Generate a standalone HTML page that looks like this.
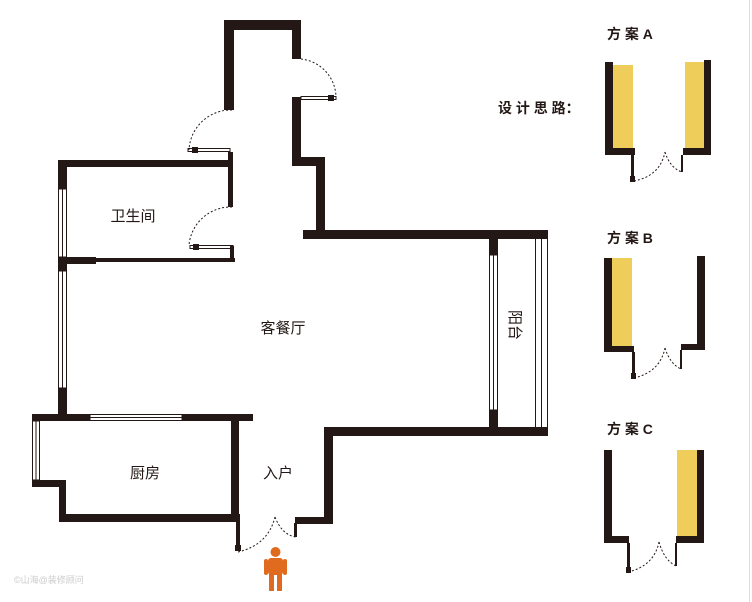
<!DOCTYPE html>
<html><head><meta charset="utf-8"><style>
html,body{margin:0;padding:0;background:#fff;}
svg{display:block;}
text{font-family:"Liberation Sans","Noto Sans CJK SC",sans-serif;fill:#231815;}
</style></head><body>
<svg width="752" height="602" viewBox="0 0 752 602" xmlns="http://www.w3.org/2000/svg">
<rect width="752" height="602" fill="#fff"/>
<line x1="749.5" y1="0" x2="749.5" y2="602" stroke="#ddd" stroke-width="1"/>
<g fill="#231815">
<!-- top corridor -->
<rect x="224" y="20" width="77" height="10"/>
<rect x="224" y="20" width="10" height="90"/>
<rect x="292" y="20" width="9" height="39"/>
<rect x="292" y="97" width="9" height="69"/>
<rect x="292" y="157" width="33" height="9"/>
<rect x="316" y="157" width="9" height="82"/>
<rect x="303" y="230" width="245" height="9"/>
<!-- bathroom -->
<rect x="58" y="160" width="175" height="7"/>
<rect x="58" y="160" width="9" height="29"/>
<rect x="58" y="257" width="38" height="7"/>
<rect x="96" y="258" width="139" height="4"/>
<rect x="228" y="152" width="5" height="55"/>
<rect x="230" y="246" width="4" height="12"/>
<!-- left wall -->
<rect x="58" y="263" width="9" height="8"/>
<rect x="58" y="388" width="9" height="30"/>
<!-- kitchen -->
<rect x="32" y="414" width="58" height="7"/>
<rect x="182" y="414" width="71" height="7"/>
<rect x="32" y="480" width="34" height="7"/>
<rect x="59" y="480" width="7" height="42"/>
<rect x="59" y="514" width="181" height="8"/>
<rect x="231" y="421" width="8" height="101"/>
<rect x="236" y="522" width="4" height="28"/>
<rect x="235" y="545" width="6" height="6"/>
<!-- entrance right -->
<rect x="295" y="517" width="38" height="7"/>
<rect x="324" y="427" width="9" height="97"/>
<rect x="324" y="427" width="224" height="9"/>
<rect x="294" y="523" width="3" height="14"/>
<!-- balcony -->
<rect x="489" y="239" width="9" height="16"/>
<rect x="489" y="410" width="9" height="18"/>
</g>
<g stroke="#231815" stroke-width="1" fill="none">
<!-- windows -->
<rect x="58.5" y="189" width="8" height="68"/>
<line x1="62.5" y1="189" x2="62.5" y2="257"/>
<rect x="58.5" y="271" width="8" height="117"/>
<line x1="62.5" y1="271" x2="62.5" y2="388"/>
<rect x="90" y="414.5" width="92" height="6"/>
<line x1="90" y1="417.5" x2="182" y2="417.5"/>
<rect x="32.5" y="421" width="7" height="59"/>
<line x1="36" y1="421" x2="36" y2="480"/>
<rect x="489.5" y="255" width="8" height="155"/>
<line x1="493.5" y1="255" x2="493.5" y2="410"/>
<line x1="535.5" y1="239" x2="535.5" y2="427"/>
<line x1="541.5" y1="239" x2="541.5" y2="427"/>
<line x1="547.5" y1="239" x2="547.5" y2="432"/>
<!-- door leaves -->
<rect x="301" y="96.5" width="35" height="3"/>
<rect x="188" y="148.5" width="42" height="3"/>
<rect x="190" y="245.5" width="43" height="3"/>
</g>
<g fill="#231815">
<rect x="328" y="95" width="6" height="6"/>
<rect x="192" y="147" width="6" height="6"/>
<rect x="193" y="244" width="6" height="6"/>
</g>
<g stroke="#231815" stroke-width="1" fill="none" stroke-dasharray="2,2">
<path d="M301 59 A39 39 0 0 1 336 98"/>
<path d="M232 110 A42 42 0 0 0 189 150"/>
<path d="M232 207 A42 42 0 0 0 189 245"/>
<path d="M238 552 Q268 545 275 517"/>
<path d="M275 517 Q282 535 296 537"/>
<path d="M634 181 Q660 176 665 152"/>
<path d="M665 152 Q670 168 682 172"/>
<path d="M634 378 Q660 372 665 348"/>
<path d="M665 348 Q670 364 681 369"/>
<path d="M628 572 Q654 566 659 542"/>
<path d="M659 542 Q664 560 676 566"/>
</g>
<!-- labels -->
<text x="133" y="221" font-size="15" text-anchor="middle">卫生间</text>
<text x="283" y="333" font-size="15" text-anchor="middle">客餐厅</text>
<text x="145" y="478" font-size="15" text-anchor="middle">厨房</text>
<text x="278" y="478" font-size="15" text-anchor="middle">入户</text>
<text transform="translate(510,325) rotate(90)" font-size="15" text-anchor="middle">阳台</text>
<text x="14" y="583" font-size="9" fill="#ccc" style="fill:#ccc">©山海@装修顾问</text>
<!-- person -->
<g fill="#e06b1f">
<circle cx="275.5" cy="552" r="5"/>
<rect x="268" y="558" width="15" height="17" rx="3"/>
<rect x="264" y="559" width="4" height="16" rx="2"/>
<rect x="283" y="559" width="4" height="16" rx="2"/>
<rect x="269" y="573" width="5" height="18"/>
<rect x="277" y="573" width="5" height="18"/>
</g>
<!-- plans -->
<text x="607" y="39" font-size="14" font-weight="bold">方 案 A</text>
<text x="498" y="113" font-size="14" font-weight="bold">设 计 思 路：</text>
<text x="607" y="243" font-size="14" font-weight="bold">方 案 B</text>
<text x="607" y="434" font-size="14" font-weight="bold">方 案 C</text>
<g fill="#efcd5b">
<rect x="613" y="65" width="20" height="83"/>
<rect x="685" y="62" width="20" height="86"/>
<rect x="612" y="258" width="20" height="88"/>
<rect x="677" y="450" width="20" height="86"/>
</g>
<g fill="#231815">
<!-- A -->
<rect x="605" y="62" width="8" height="93"/>
<rect x="605" y="148" width="30" height="7"/>
<rect x="631" y="155" width="3" height="24"/>
<rect x="630" y="176" width="5" height="6"/>
<rect x="704" y="60" width="7" height="95"/>
<rect x="683" y="148" width="28" height="7"/>
<rect x="681" y="155" width="2" height="17"/>
<!-- B -->
<rect x="604" y="258" width="8" height="94"/>
<rect x="604" y="346" width="30" height="6"/>
<rect x="632" y="352" width="3" height="25"/>
<rect x="631" y="373" width="5" height="6"/>
<rect x="697" y="256" width="8" height="94"/>
<rect x="681" y="344" width="24" height="6"/>
<rect x="680" y="350" width="2" height="19"/>
<!-- C -->
<rect x="604" y="450" width="8" height="93"/>
<rect x="604" y="536" width="25" height="7"/>
<rect x="627" y="543" width="3" height="28"/>
<rect x="626" y="567" width="5" height="6"/>
<rect x="697" y="450" width="7" height="93"/>
<rect x="676" y="536" width="28" height="7"/>
<rect x="675" y="543" width="2" height="23"/>
</g>
</svg>
</body></html>
